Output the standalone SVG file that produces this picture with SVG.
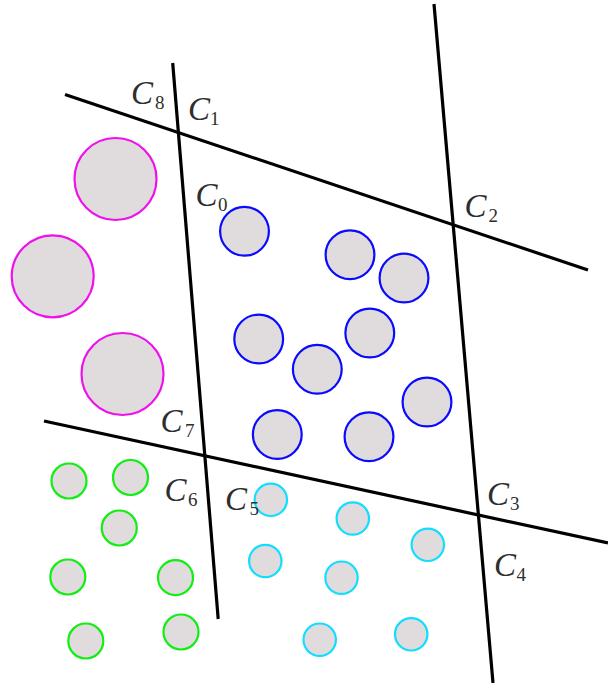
<svg xmlns="http://www.w3.org/2000/svg" width="608" height="683" viewBox="0 0 608 683">
<style>
.bg{fill:#ffffff}
.ln{stroke:#000;stroke-width:3.2;fill:none}
.c{fill:#e0dbdc;stroke-width:2.2}
.m{stroke:#ee11ee}
.b{stroke:#0a0aff}
.g{stroke:#11ee11}
.cy{stroke:#11ddff}
.lbl{font-family:"Liberation Serif",serif;font-style:italic;font-size:33px;fill:#2e2e2e}
.sub{font-family:"Liberation Serif",serif;font-style:normal;font-size:19px;fill:#2e2e2e}
</style>
<rect class="bg" x="0" y="0" width="608" height="683"/>
<g id="connectors">
<line class="ln" x1="65" y1="94.5" x2="588" y2="270"/>
<line class="ln" x1="172.7" y1="63" x2="218.2" y2="619"/>
<line class="ln" x1="434" y1="4" x2="493" y2="683"/>
<line class="ln" x1="44" y1="421" x2="608" y2="543"/>
</g>
<g id="magenta">
<circle id="m1" class="c m" cx="115.5" cy="179" r="41"/>
<circle id="m2" class="c m" cx="52.7" cy="276.3" r="41"/>
<circle id="m3" class="c m" cx="122.5" cy="374" r="41"/>
</g>
<g id="blue">
<circle id="b1" class="c b" cx="244.5" cy="231.3" r="24.4"/>
<circle id="b2" class="c b" cx="350" cy="254.7" r="24.4"/>
<circle id="b3" class="c b" cx="404" cy="278" r="24.4"/>
<circle id="b4" class="c b" cx="258.7" cy="339" r="24.4"/>
<circle id="b5" class="c b" cx="369.8" cy="333" r="24.4"/>
<circle id="b6" class="c b" cx="317.3" cy="369.3" r="24.4"/>
<circle id="b7" class="c b" cx="427" cy="402" r="24.4"/>
<circle id="b8" class="c b" cx="277.3" cy="434.5" r="24.4"/>
<circle id="b9" class="c b" cx="369" cy="436.8" r="24.4"/>
</g>
<g id="green">
<circle id="g1" class="c g" cx="69" cy="481" r="17.5"/>
<circle id="g2" class="c g" cx="130.5" cy="477.5" r="17.5"/>
<circle id="g3" class="c g" cx="119.3" cy="528" r="17.5"/>
<circle id="g4" class="c g" cx="67.8" cy="577" r="17.5"/>
<circle id="g5" class="c g" cx="175.5" cy="577.7" r="17.5"/>
<circle id="g6" class="c g" cx="85.8" cy="641" r="17.5"/>
<circle id="g7" class="c g" cx="181" cy="632" r="17.5"/>
</g>
<g id="cyan">
<circle id="cy1" class="c cy" cx="270.8" cy="499.8" r="16.2"/>
<circle id="cy2" class="c cy" cx="352.8" cy="518.5" r="16.2"/>
<circle id="cy3" class="c cy" cx="427.8" cy="544.8" r="16.2"/>
<circle id="cy4" class="c cy" cx="265.3" cy="561" r="16.2"/>
<circle id="cy5" class="c cy" cx="341.5" cy="577.7" r="16.2"/>
<circle id="cy6" class="c cy" cx="319.7" cy="639.7" r="16.2"/>
<circle id="cy7" class="c cy" cx="411.2" cy="634.3" r="16.2"/>
</g>
<g id="labels">
<g id="L8"><text class="lbl" x="131" y="103.5">C</text><text class="sub" x="155" y="108.5">8</text></g>
<g id="L1"><text class="lbl" x="188" y="119.5">C</text><text class="sub" x="210" y="124.5">1</text></g>
<g id="L0"><text class="lbl" x="195.5" y="206">C</text><text class="sub" x="218" y="211">0</text></g>
<g id="L2"><text class="lbl" x="464.5" y="217">C</text><text class="sub" x="488.5" y="222">2</text></g>
<g id="L7"><text class="lbl" x="160.5" y="432">C</text><text class="sub" x="185" y="437">7</text></g>
<g id="L6"><text class="lbl" x="164.5" y="501">C</text><text class="sub" x="188" y="506">6</text></g>
<g id="L5"><text class="lbl" x="225" y="509.5">C</text><text class="sub" x="249.5" y="514.5">5</text></g>
<g id="L3"><text class="lbl" x="487" y="505">C</text><text class="sub" x="510" y="510">3</text></g>
<g id="L4"><text class="lbl" x="494" y="575.5">C</text><text class="sub" x="516.5" y="580.5">4</text></g>
</g>
</svg>
